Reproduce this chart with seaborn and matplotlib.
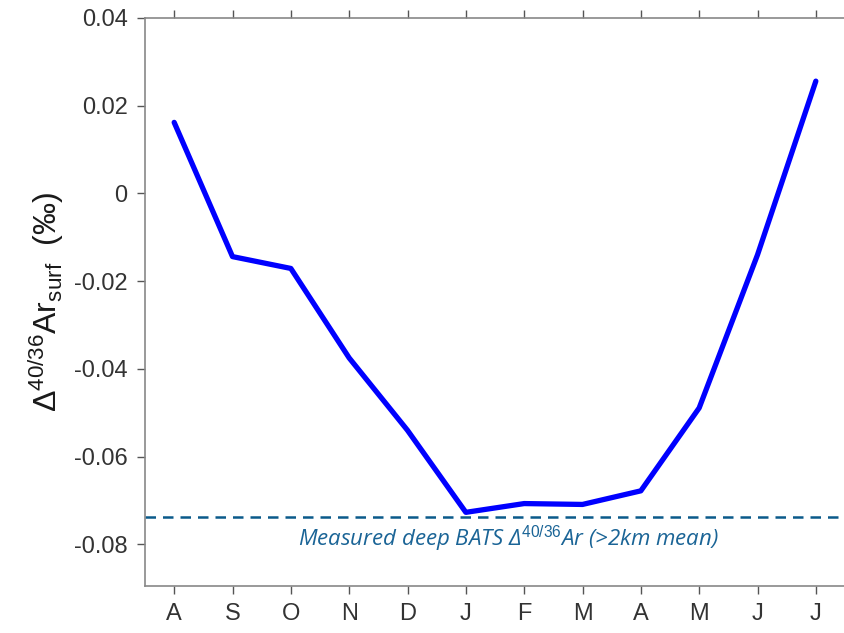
import matplotlib
matplotlib.use("Agg")
import matplotlib.pyplot as plt
import seaborn as sns
import pandas as pd
import numpy as np

# Monthly surface argon isotope anomaly (per mil), August through July
months = ["A", "S", "O", "N", "D", "J", "F", "M", "A", "M", "J", "J"]
delta_surf = [0.0162, -0.0144, -0.0171, -0.0375, -0.0540, -0.0727,
              -0.0707, -0.0709, -0.0678, -0.0489, -0.0140, 0.0256]
deep_mean = -0.0737
y_ticks = [-0.08, -0.06, -0.04, -0.02, 0, 0.02, 0.04]
y_tick_labels = ["-0.08", "-0.06", "-0.04", "-0.02", "0", "0.02", "0.04"]

sns.set_style("white")
plt.rcParams["font.family"] = ["Liberation Sans", "DejaVu Sans"]
plt.rcParams["mathtext.fontset"] = "custom"
plt.rcParams["mathtext.rm"] = "Liberation Sans"
plt.rcParams["mathtext.it"] = "Open Sans:italic"

df = pd.DataFrame({"idx": np.arange(len(months)), "delta": delta_surf})

fig = plt.figure(figsize=(8.45, 6.33), dpi=100)
ax = fig.add_axes([0.1716, 0.0742, 0.8284, 0.8974])

sns.lineplot(data=df, x="idx", y="delta", ax=ax, color="#0000ff",
             linewidth=3.8, sort=False, legend=False)
ax.axhline(deep_mean, color="#0b5a8a", linewidth=1.8, dashes=(4.2, 2.8))

ax.text(5.73, -0.0787, r"Measured deep BATS Δ$^{\mathit{40/36}}$Ar (>2km mean)",
        ha="center", va="center", fontsize=16, style="italic",
        family=["Open Sans", "DejaVu Sans"], color="#1a6496")

ax.set_xlim(-0.5, 11.5)
ax.set_ylim(-0.0895, 0.04)
ax.set_xticks(range(len(months)))
ax.set_xticklabels(months)
ax.set_yticks(y_ticks)
ax.set_yticklabels(y_tick_labels)

ax.set_xlabel("")
ax.set_ylabel(r"Δ$^{\mathrm{40/36}}$Ar$_{\mathrm{surf}}$  (‰)", fontsize=23,
              color="#1a1a1a", labelpad=6)

for side in ["left", "bottom", "top"]:
    ax.spines[side].set_visible(True)
    ax.spines[side].set_color("#888888")
    ax.spines[side].set_linewidth(1.2)
ax.spines["right"].set_visible(False)

ax.tick_params(axis="both", which="major", direction="out", length=5.5,
               width=1.0, color="#555555", labelsize=17, labelcolor="#333333",
               pad=7)
ax.tick_params(axis="x", top=True, bottom=True, labeltop=False)
ax.tick_params(axis="y", left=True, right=False)

fig.savefig("out.png", dpi=100)
